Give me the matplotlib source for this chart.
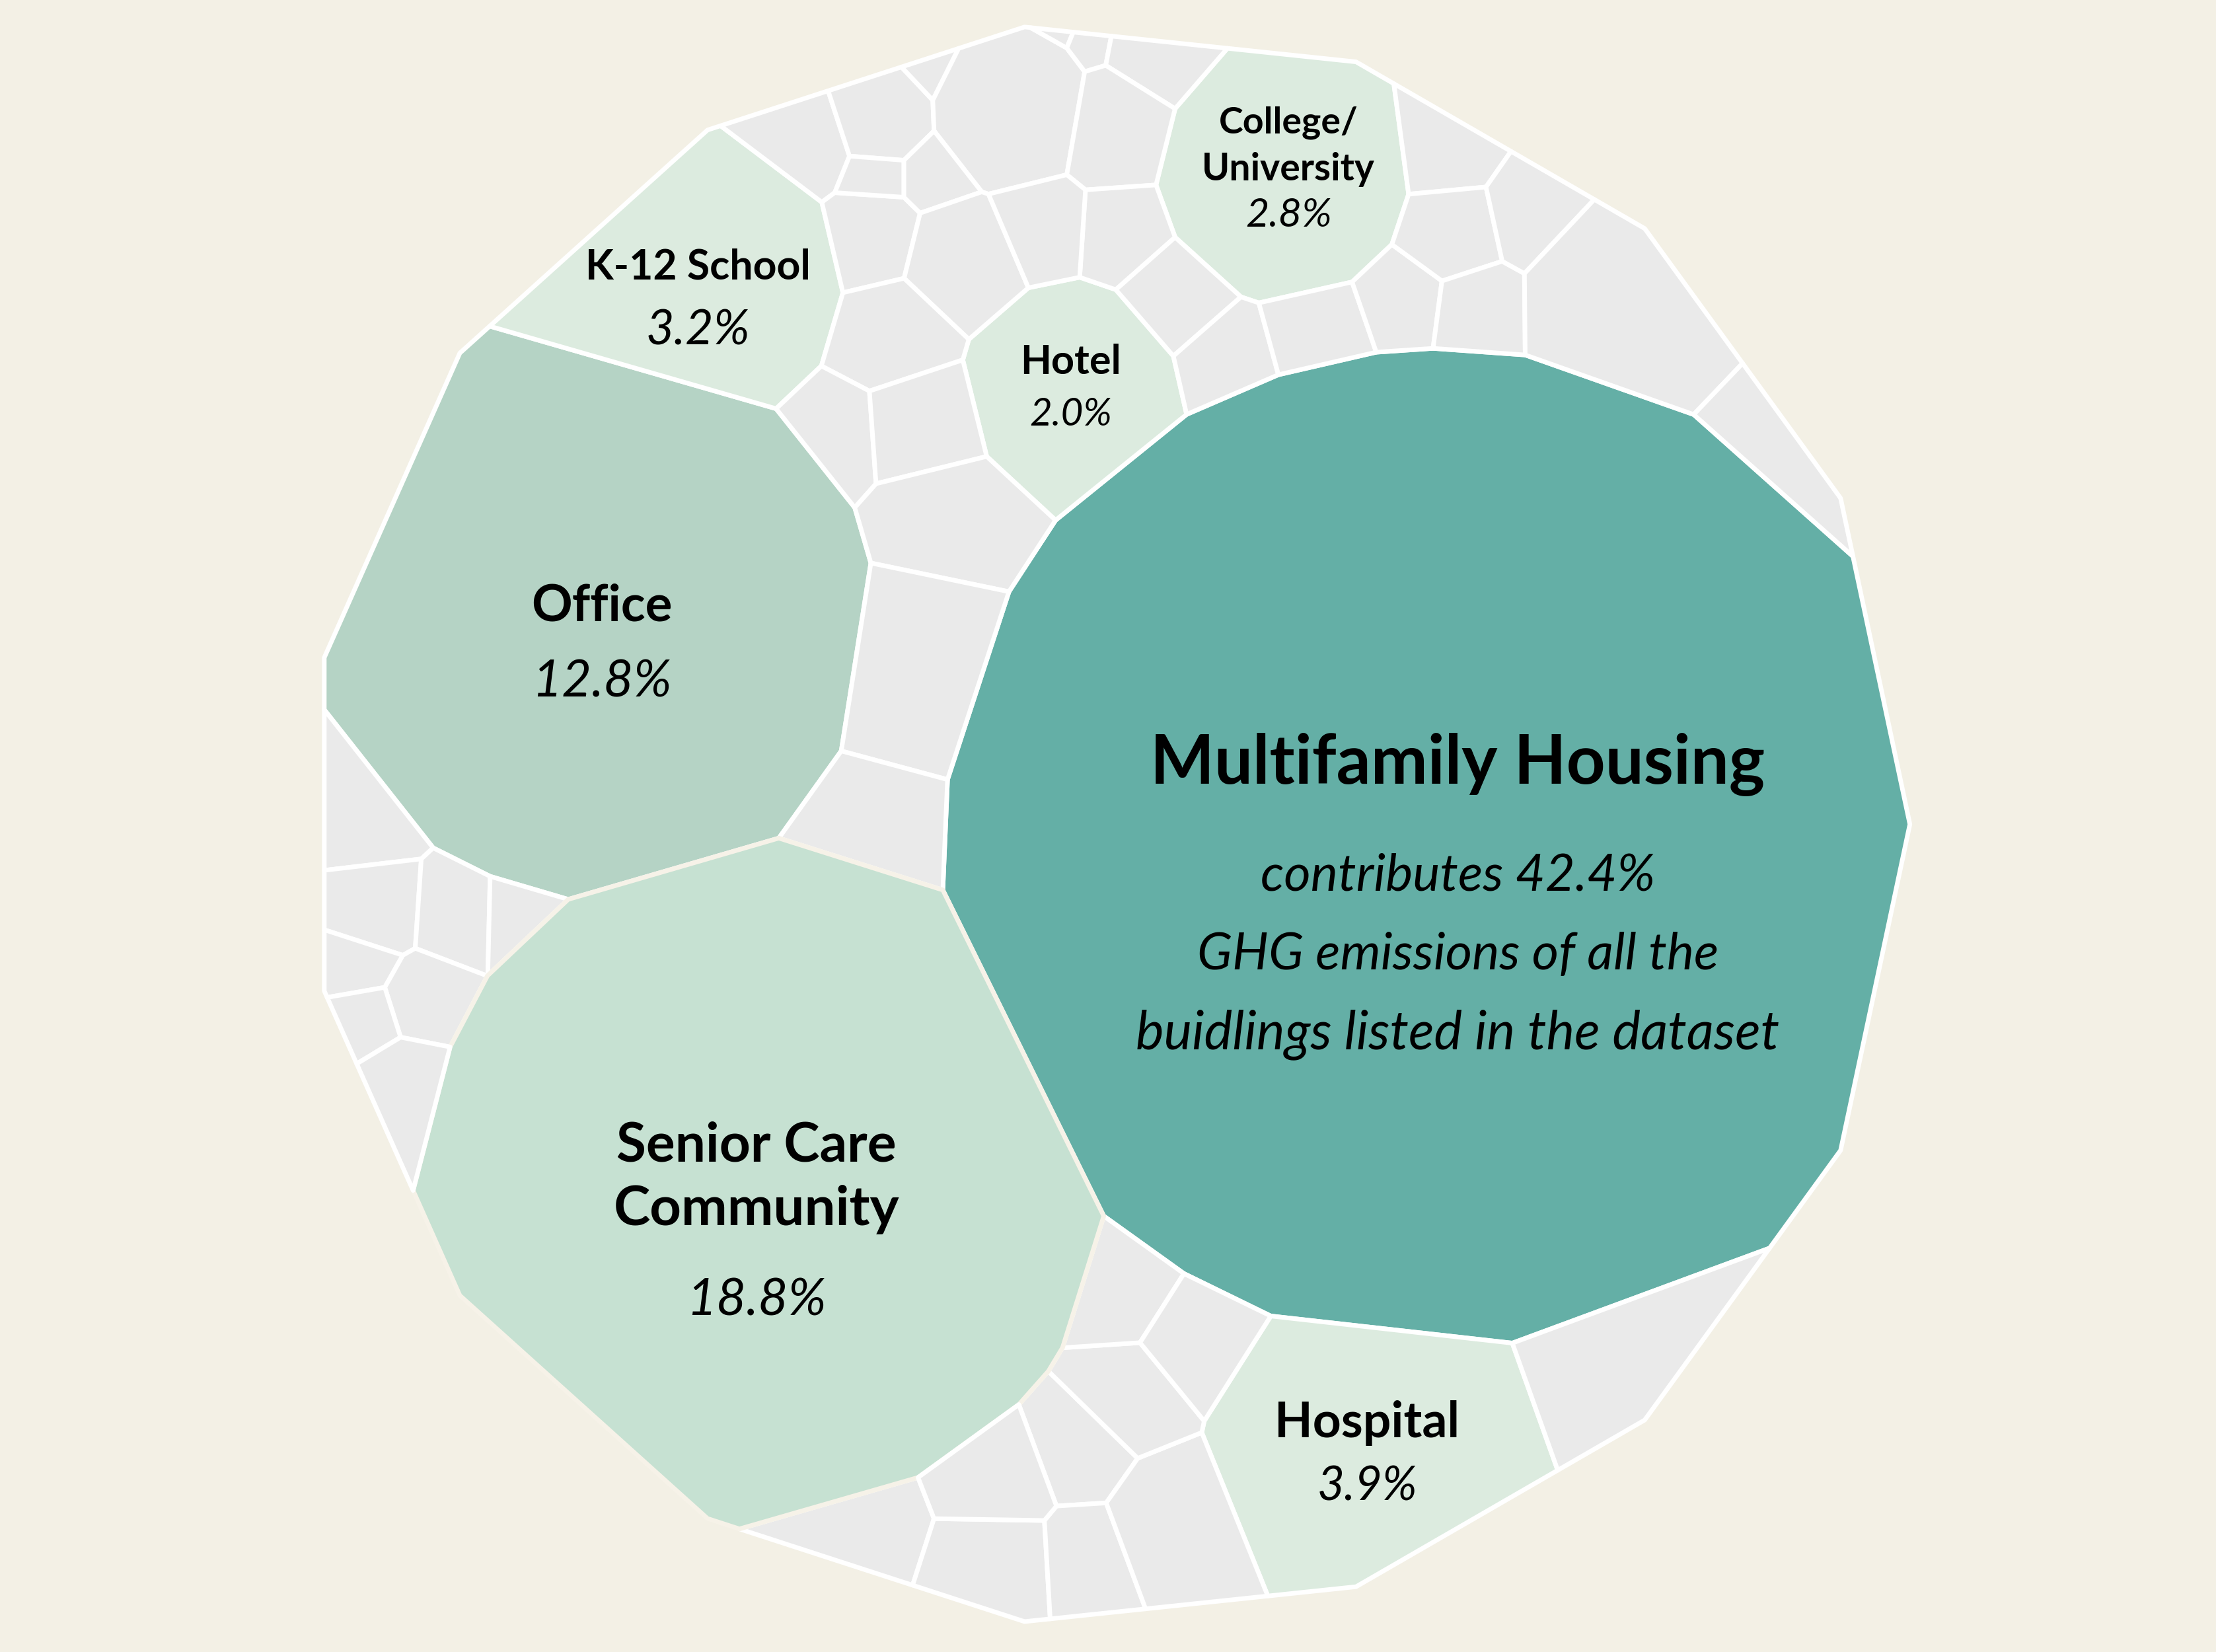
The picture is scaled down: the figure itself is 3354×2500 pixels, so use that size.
import numpy as np
import matplotlib.pyplot as plt
from matplotlib.patches import Polygon

plt.rcParams['font.family'] = ['Lato', 'DejaVu Sans']

# share of GHG emissions (%) for the labelled property types
names = ['Multifamily Housing', 'Senior Care Community', 'Office', 'Hospital',
         'K-12 School', 'College/University', 'Hotel']
shares = [42.4, 18.8, 12.8, 3.9, 3.2, 2.8, 2.0]

# unlabelled property types (grey cells), same unit
other_shares = [0.42, 0.40, 0.07, 1.06, 0.02, 0.07, 0.28, 0.55, 0.41, 0.42,
                0.41, 0.41, 0.38, 0.41, 0.42, 0.40, 0.41, 1.57, 0.54, 0.41,
                0.13, 0.21, 0.64, 0.43, 0.61, 0.45, 0.57, 1.02, 1.37, 0.83,
                0.52, 0.42, 0.41, 0.22, 0.20, 0.37, 0.19, 0.41, 0.59, 0.62,
                0.56, 0.50, 0.49, 1.01, 0.58, 0.51, 0.56, 1.29]

# layout hints: starting site of each cell, on a 1568x1168 sketch
named_seed = [(1016, 597), (538, 833), (424, 441), (968, 1025), (494, 198), (908, 125), (756, 275)]
other_seed = [(565, 104), (620, 86), (655, 53), (713, 82), (744, 27), (771, 38), (818, 47), (788, 95),
              (793, 167), (831, 210), (866, 250), (932, 232), (990, 212), (1020, 110), (1025, 164),
              (1043, 219), (1080, 152), (1150, 218), (1260, 323), (614, 170), (617, 125), (658, 125),
              (679, 186), (733, 163), (630, 238), (595, 305), (651, 301), (668, 370), (646, 476),
              (618, 580), (254, 575), (262, 643), (321, 647), (363, 648), (250, 680), (298, 707),
              (257, 720), (286, 768), (610, 1083), (694, 1110), (695, 1050), (757, 1027), (762, 1106),
              (832, 1080), (795, 988), (790, 912), (845, 947), (1150, 960)]
SKETCH_C = (784, 583)
SKETCH_R = 567

BG = '#F3F0E5'
GREY = '#EAEAEA'
named_colors = ['#64AFA6', '#C6E1D2', '#B5D3C5', '#DCEBDF', '#DCEBDF', '#DCEBDF', '#DCEBDF']


def clip(poly, a, b):
    # keep the part of poly with a.x <= b
    d = poly @ a - b
    inside = d <= 0
    if inside.all():
        return poly
    if not inside.any():
        return poly[:0]
    out = []
    n = len(poly)
    for k in range(n):
        k2 = (k + 1) % n
        if inside[k]:
            out.append(poly[k])
        if inside[k] != inside[k2]:
            t = d[k] / (d[k] - d[k2])
            out.append(poly[k] + t * (poly[k2] - poly[k]))
    return np.array(out)


def power_cells(sites, w, outline):
    sq = (sites ** 2).sum(1)
    cells = []
    for i in range(len(sites)):
        order = np.argsort(((sites - sites[i]) ** 2).sum(1))
        poly = outline
        for j in order[1:]:
            poly = clip(poly, 2 * (sites[j] - sites[i]), sq[j] - sq[i] - w[j] + w[i])
            if len(poly) == 0:
                break
        cells.append(poly)
    return cells


def area(p):
    if len(p) < 3:
        return 0.0
    x, y = p[:, 0], p[:, 1]
    return 0.5 * (x * np.roll(y, -1) - np.roll(x, -1) * y).sum()


def centroid(p):
    x, y = p[:, 0], p[:, 1]
    c = x * np.roll(y, -1) - np.roll(x, -1) * y
    return np.array([((x + np.roll(x, -1)) * c).sum(), ((y + np.roll(y, -1)) * c).sum()]) / (3 * c.sum())


def jacobian(sites, w, cells):
    n = len(sites)
    sq = (sites ** 2).sum(1)
    J = np.zeros((n, n))
    for i, poly in enumerate(cells):
        if len(poly) < 3:
            continue
        q = np.roll(poly, -1, axis=0)
        mid = (poly + q) / 2
        L = np.hypot(*(q - poly).T)
        A = 2 * (sites - sites[i])
        B = sq - sq[i] - w + w[i]
        nrm = np.hypot(*A.T)
        nrm[i] = 1
        r = np.abs(mid @ A.T - B) / nrm
        r[:, i] = np.inf
        j = r.argmin(1)
        for e in range(len(j)):
            if r[e, j[e]] < 1e-6:
                g = L[e] / (2 * np.hypot(*(sites[j[e]] - sites[i])))
                J[i, j[e]] -= g
                J[i, i] += g
    return J


# 15-sided outline
t = 2 * np.pi * np.arange(15) / 15
outline = np.column_stack([np.cos(t), np.sin(t)])

values = np.array(shares + other_shares)
seeds = np.array(named_seed + other_seed, dtype=float)
sites = np.column_stack([(seeds[:, 0] - SKETCH_C[0]) / SKETCH_R, (SKETCH_C[1] - seeds[:, 1]) / SKETCH_R])
target = values / values.sum() * area(outline)

# solve the weights of the power diagram so that cell areas match the values
w = np.zeros(len(sites))
cells = power_cells(sites, w, outline)
A = np.array([area(c) for c in cells])
for it in range(80):
    err = target - A
    if np.abs(err).max() < 1e-7:
        break
    J = jacobian(sites, w, cells)
    dw = np.linalg.lstsq(J, err, rcond=None)[0]
    step = 1.0
    while True:
        w_new = w + step * dw
        cells_new = power_cells(sites, w_new, outline)
        A_new = np.array([area(c) for c in cells_new])
        if ((A_new > 0).all() and np.abs(target - A_new).sum() < np.abs(err).sum()) or step < 1e-4:
            break
        step /= 2
    w, cells, A = w_new, cells_new, A_new

# ---- drawing ----
fig = plt.figure(figsize=(33.55, 25), dpi=100, facecolor=BG)
ax = fig.add_axes([0, 0, 1, 1])
ax.set_facecolor(BG)
R_PX = 1213.2
ax.set_xlim(-1677.5 / R_PX, (3355 - 1677.5) / R_PX)
ax.set_ylim(-(2500 - 1247.4) / R_PX, 1247.4 / R_PX)
ax.axis('off')

n_named = len(names)
late = {n_named + 37, n_named + 40}
for i, poly in enumerate(cells):
    if len(poly) < 3:
        continue
    fc = named_colors[i] if i < n_named else GREY
    ec = 'white'
    z = 2
    if i == 1:
        ec, z = '#F6F2E8', 3
    if i in late:
        z = 4
    ax.add_patch(Polygon(poly, closed=True, facecolor=fc, edgecolor=ec, linewidth=5.0,
                         joinstyle='round', zorder=z))

pct = ['{:.1f}%'.format(s) for s in shares]
labels = [
    (34, [('Multifamily Housing', 'bold', 74, -91),
          ('contributes ' + pct[0], 'italic', 56, 70),
          ('GHG emissions of all the', 'italic', 56, 190),
          ('buidlings listed in the dataset', 'italic', 58, 310)]),
    (-6, [('Senior Care', 'bold', 59, -25), ('Community', 'bold', 60, 71), (pct[1], 'italic', 56, 208)]),
    (2, [('Office', 'bold', 55, -3), (pct[2], 'italic', 56, 112)]),
    (-1, [('Hospital', 'bold', 54, -14), (pct[3], 'italic', 51, 82)]),
    (-3, [('K-12 School', 'bold', 45, 0), (pct[4], 'italic', 53, 99)]),
    (5, [('College/', 'bold', 40, -59), ('University', 'bold', 41, 13), (pct[5], 'italic', 44, 83)]),
    (2, [('Hotel', 'bold', 44, -23), (pct[6], 'italic', 42, 55)]),
]
for i, (dx, lines) in enumerate(labels):
    c = centroid(cells[i])
    for text, kind, size, dy in lines:
        ax.annotate(text, xy=c, xytext=(dx * 0.72, -dy * 0.72), textcoords='offset points',
                    ha='center', va='baseline', fontsize=size, color='black', zorder=6,
                    fontweight='bold' if kind == 'bold' else 'normal',
                    fontstyle='italic' if kind == 'italic' else 'normal')

fig.savefig('out.png', dpi=100, facecolor=BG)
